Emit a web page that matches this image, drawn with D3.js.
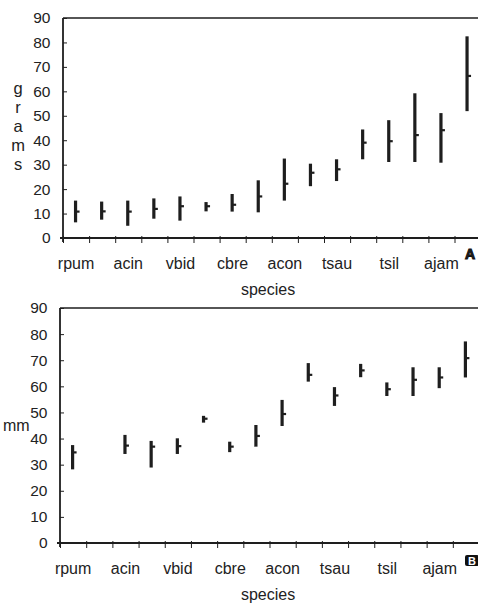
<!DOCTYPE html>
<html>
<head>
<meta charset="utf-8">
<script src="https://d3js.org/d3.v7.min.js"></script>
<style>
  body { margin: 0; background: #fff; }
  svg text { font-family: "Liberation Sans", Arial, sans-serif; fill: #222; }
</style>
</head>
<body>
<div id="chart"></div>
<script>
// species along the x axis; only every other one is labelled in the figure
const species = ["rpum", "s02", "acin", "s04", "vbid", "s06", "cbre", "s08",
                 "acon", "s10", "tsau", "s12", "tsil", "s14", "ajam", "s16"];
const shownLabels = ["rpum", "acin", "vbid", "cbre", "acon", "tsau", "tsil", "ajam"];
const yTicks = [0, 10, 20, 30, 40, 50, 60, 70, 80, 90];

// panel A: body mass (grams)
const gramsMin  = [6.4, 7.5, 5.0, 7.9, 7.1, 10.9, 10.8, 10.5, 15.3, 21.2, 23.3, 32.2, 31.1, 31.1, 30.8, 51.9];
const gramsMean = [10.8, 10.9, 10.8, 11.9, 13.0, 13.0, 13.6, 17.0, 22.2, 26.7, 28.1, 39.0, 39.6, 42.1, 44.1, 66.3];
const gramsMax  = [15.3, 14.9, 15.3, 16.2, 17.0, 14.7, 18.0, 23.6, 32.5, 30.4, 32.2, 44.4, 48.2, 59.2, 51.1, 82.5];

// panel B: length (mm), second species has no data
const mmMin  = [28.2, null, 34.1, 28.9, 34.1, 46.1, 34.8, 36.9, 44.8, 61.8, 52.5, 63.5, 56.3, 56.3, 59.3, 63.4];
const mmMean = [34.7, null, 37.3, 36.9, 37.1, 47.6, 36.9, 41.0, 49.4, 64.4, 56.5, 66.1, 58.9, 62.5, 63.4, 70.8];
const mmMax  = [37.5, null, 41.4, 39.1, 40.1, 48.7, 38.8, 45.2, 54.8, 68.9, 59.7, 68.6, 61.5, 67.3, 67.3, 77.2];

const W = 478, H = 604;
const ink = "#1e1e1e";

const svg = d3.select("#chart").append("svg")
    .attr("width", W)
    .attr("height", H);

const makePanel = (cfg) => {
  const x = d3.scaleBand().domain(species).range([cfg.left, cfg.right]);
  const xEdge = d3.scaleLinear().domain([0, species.length]).range([cfg.left, cfg.right]);
  const y = d3.scaleLinear().domain([0, 90]).range([cfg.bottom, cfg.top]);

  const g = svg.append("g");

  // top frame line
  g.append("line")
    .attr("x1", cfg.left).attr("x2", W)
    .attr("y1", cfg.top).attr("y2", cfg.top)
    .attr("stroke", ink).attr("stroke-width", 1.6);

  // y axis, ticks cross the axis line
  g.append("g")
    .attr("transform", `translate(${cfg.left},0)`)
    .call(d3.axisLeft(y).tickValues(yTicks).tickSizeOuter(0).tickSize(5).tickPadding(7.5))
    .call(a => a.select(".domain").attr("stroke", ink).attr("stroke-width", 1.8)
        .attr("d", `M0,${cfg.top}V${cfg.bottom + 4}`))
    .call(a => a.selectAll(".tick line").attr("x2", 4).attr("stroke", ink))
    .call(a => a.selectAll(".tick text").attr("font-size", 15.5).attr("fill", "#222"));

  // x axis with ticks at the band edges
  g.append("g")
    .attr("transform", `translate(0,${cfg.bottom})`)
    .call(d3.axisBottom(xEdge).tickValues(d3.range(0, species.length)).tickFormat("").tickSizeOuter(0).tickSize(5))
    .call(a => a.select(".domain").attr("stroke", ink).attr("stroke-width", 1.8)
        .attr("d", `M${cfg.left - 3},0H${W}`))
    .call(a => a.selectAll(".tick line").attr("y1", -2).attr("stroke", ink));

  // category labels, every other species
  g.append("g")
    .attr("transform", `translate(0,${cfg.bottom})`)
    .call(d3.axisBottom(x).tickSize(0).tickPadding(20)
      .tickFormat(d => shownLabels.includes(d) ? d : ""))
    .call(a => a.select(".domain").remove())
    .call(a => a.selectAll(".tick text").attr("font-size", 16).attr("fill", "#222"));

  // x axis title
  g.append("text")
    .attr("x", 268).attr("y", cfg.bottom + 57)
    .attr("text-anchor", "middle")
    .attr("font-size", 16)
    .text("species");

  // range bars with a short mean tick to the right
  const rows = species.map((s, i) => ({ s, lo: cfg.min[i], mean: cfg.mean[i], hi: cfg.max[i] }))
    .filter(d => d.lo !== null);
  const cx = d => x(d.s) + x.bandwidth() / 2 - 0.5;

  g.selectAll(".range")
    .data(rows)
    .enter().append("line")
    .attr("class", "range")
    .attr("x1", cx).attr("x2", cx)
    .attr("y1", d => y(d.lo)).attr("y2", d => y(d.hi))
    .attr("stroke", ink).attr("stroke-width", 3.2);

  g.selectAll(".mean")
    .data(rows)
    .enter().append("line")
    .attr("class", "mean")
    .attr("x1", cx).attr("x2", d => cx(d) + 4)
    .attr("y1", d => y(d.mean)).attr("y2", d => y(d.mean))
    .attr("stroke", ink).attr("stroke-width", 2.2);

  return g;
};

const panelA = makePanel({ left: 63, right: 480.6, top: 18, bottom: 238, min: gramsMin, mean: gramsMean, max: gramsMax });
const panelB = makePanel({ left: 60, right: 479, top: 308, bottom: 543, min: mmMin, mean: mmMean, max: mmMax });

// y titles
const gramsTitle = panelA.append("text")
  .attr("x", 18).attr("text-anchor", "middle").attr("font-size", 16.5);
"grams".split("").forEach((c, i) => {
  gramsTitle.append("tspan").attr("x", 18).attr("y", 94 + i * 19).text(c);
});

panelB.append("text")
  .attr("x", 3).attr("y", 431)
  .attr("font-size", 16)
  .text("mm");

// panel letters
panelA.append("text")
  .attr("x", 465).attr("y", 259)
  .attr("font-size", 14).attr("font-weight", 900)
  .attr("stroke", "#111").attr("stroke-width", 1)
  .text("A");

panelB.append("rect")
  .attr("x", 465).attr("y", 555).attr("width", 14).attr("height", 11)
  .attr("rx", 2).attr("fill", "#111");
panelB.append("text")
  .attr("x", 468).attr("y", 564.5)
  .attr("font-size", 11).attr("font-weight", 900)
  .attr("fill", "#fff").style("fill", "#fff")
  .text("B");
</script>
</body>
</html>
